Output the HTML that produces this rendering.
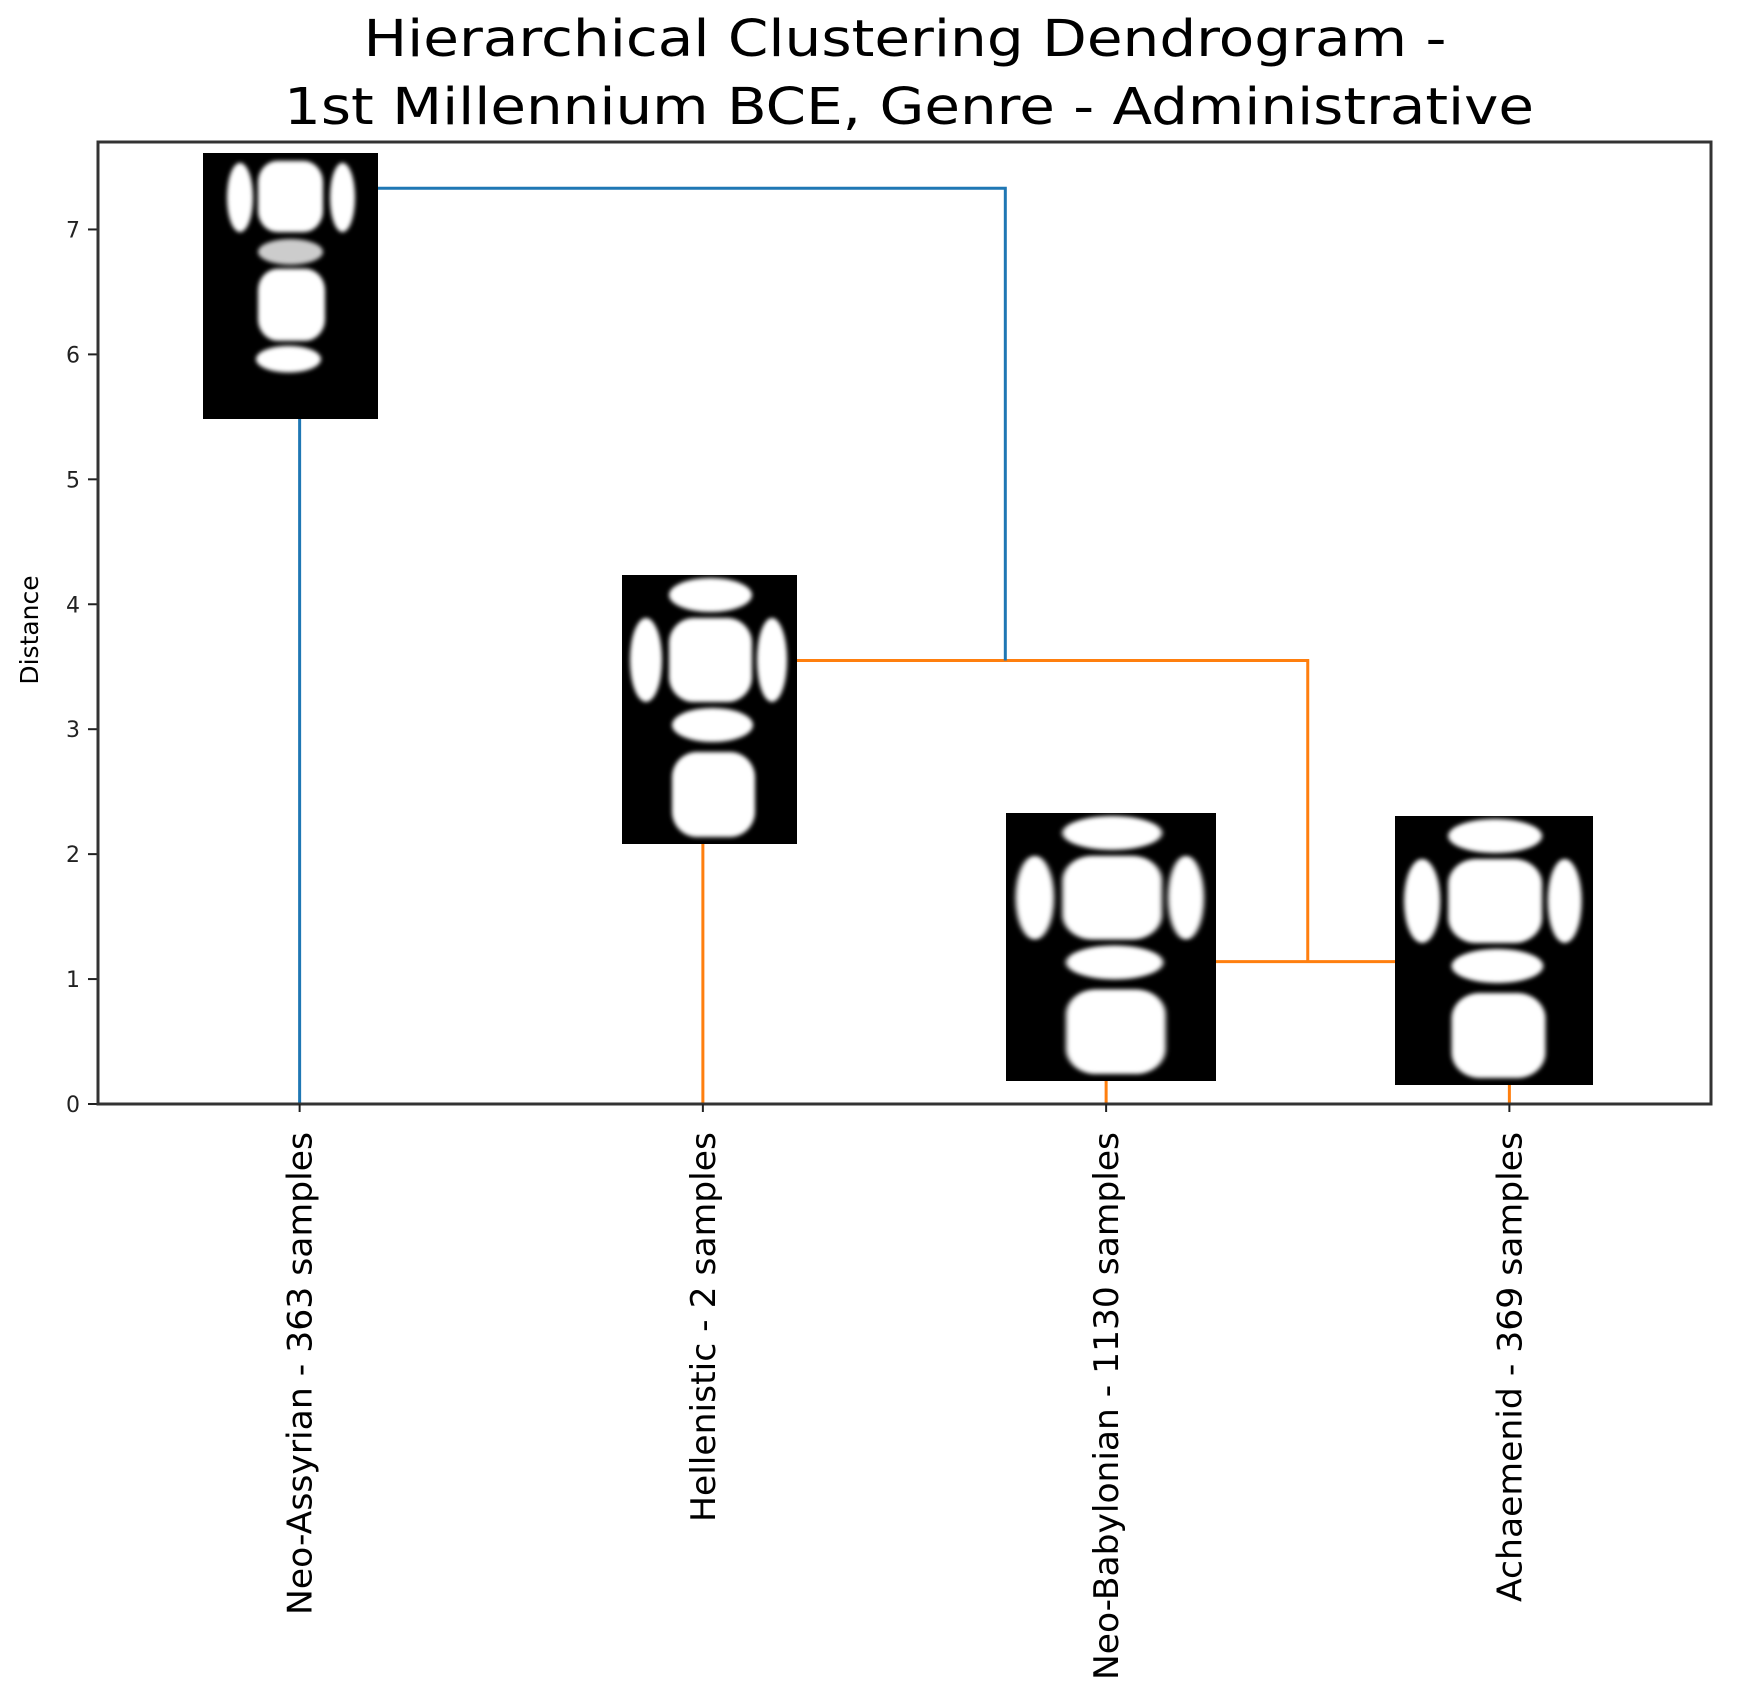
<!DOCTYPE html>
<html><head><meta charset="utf-8"><style>
html,body{margin:0;padding:0;background:#fff;}
svg text{font-family:"DejaVu Sans","Liberation Sans",sans-serif;}
</style></head><body>
<svg id="chart" width="1753" height="1694" viewBox="0 0 1753 1694" xmlns="http://www.w3.org/2000/svg">
<defs>
<filter id="blur" x="-20%" y="-20%" width="140%" height="140%"><feGaussianBlur stdDeviation="2.2"/></filter>
</defs>
<text x="905" y="56" font-size="51" text-anchor="middle" textLength="1083" lengthAdjust="spacingAndGlyphs" fill="#000">Hierarchical Clustering Dendrogram -</text>
<text x="909" y="124" font-size="51" text-anchor="middle" textLength="1250" lengthAdjust="spacingAndGlyphs" fill="#000">1st Millennium BCE, Genre - Administrative</text>
<text transform="translate(38,630) rotate(-90)" font-size="25" text-anchor="middle" fill="#000">Distance</text>
<g id="ticks"></g>
<g id="links"></g>
<g id="thumbs"></g>
<rect x="98" y="142" width="1613" height="962" fill="none" stroke="#333" stroke-width="3"/>
<g id="xlabels"></g>
</svg>
<script>
const leafLabels = ["Neo-Assyrian - 363 samples","Hellenistic - 2 samples","Neo-Babylonian - 1130 samples","Achaemenid - 369 samples"];
const labelLengths = [483, 390, 548, 470];
const mergeLeft = [2, 1, 0];
const mergeRight = [3, 4, 5];
const mergeHeights = [1.14, 3.55, 7.33];
const mergeColors = ["#ff7f0e", "#ff7f0e", "#1f77b4"];
const yTicks = [0,1,2,3,4,5,6,7];

const NS = "http://www.w3.org/2000/svg";
const X0 = 98, X1 = 1711, Y0 = 1104, Y1 = 142;
const xMax = leafLabels.length * 10, yMax = 7.7;
const xs = v => X0 + (v / xMax) * (X1 - X0);
const ys = v => Y0 - (v / yMax) * (Y0 - Y1);
function mk(tag, attrs, parent){ const e = document.createElementNS(NS, tag); for (const k in attrs) e.setAttribute(k, attrs[k]); parent.appendChild(e); return e; }

const tg = document.getElementById('ticks');
yTicks.forEach(t => {
  const l = mk('line', {x1: X0 - 10, x2: X0, y1: ys(t), y2: ys(t), stroke: '#222', 'stroke-width': 2}, tg);
  
  
  const tx = mk('text', {x: X0 - 18, y: ys(t) + 8, 'font-size': 22, 'text-anchor': 'end', fill: '#222'}, tg);
  tx.textContent = t;
  
  
});

const nodeX = leafLabels.map((_, i) => 5 + 10 * i);
const nodeY = leafLabels.map(() => 0);
const lg = document.getElementById('links');
mergeHeights.forEach((h, k) => {
  const a = mergeLeft[k], b = mergeRight[k];
  const xa = xs(nodeX[a]), xb = xs(nodeX[b]);
  const p = mk('path', {d: `M${xa},${ys(nodeY[a])} V${ys(h)} H${xb} V${ys(nodeY[b])}`, fill: 'none', stroke: mergeColors[k], 'stroke-width': 3}, lg);
  
  
  nodeX.push((nodeX[a] + nodeX[b]) / 2);
  nodeY.push(h);
});

const xg = document.getElementById('xlabels');
leafLabels.forEach((lab, i) => {
  const x = xs(nodeX[i]);
  const tick = mk('line', {x1: x, x2: x, y1: Y0, y2: Y0 + 8, stroke: '#222', 'stroke-width': 2}, xg);
  
  
  const t = mk('text', {transform: `translate(${x + 12},1132) rotate(-90)`, 'font-size': 34, 'text-anchor': 'end', textLength: labelLengths[i], lengthAdjust: 'spacingAndGlyphs', fill: '#000'}, xg);
  t.textContent = lab;
  
  
});

const thumbs = [
  {x: 203, y: 153, w: 175, h: 266, type: 1},
  {x: 622, y: 575, w: 175, h: 269, type: 0},
  {x: 1006, y: 813, w: 210, h: 268, type: 0},
  {x: 1395, y: 816, w: 198, h: 269, type: 0}
];
const shapes0 = [
  ['e', 47,3,130,37],['e',8,43,40,127],['r',47,43,130,127],['e',135,43,165,127],['e',50,133,131,167],['r',50,177,133,262]
];
const shapes1 = [
  ['e',24,10,50,80],['r',55,8,120,80],['e',127,10,152,80],['e',55,87,120,113,0.8],['r',55,117,122,190],['e',53,195,118,222]
];
const thg = document.getElementById('thumbs');
thumbs.forEach((th, i) => {
  const g = mk('g', {transform: `translate(${th.x},${th.y}) scale(${th.w/175},${th.h/269})`}, thg);
  
  
  mk('rect', {x: 0, y: 0, width: 175, height: 269, fill: '#000'}, g);
  const sg = mk('g', {filter: 'url(#blur)', fill: '#fff'}, g);
  (th.type ? shapes1 : shapes0).forEach(s => {
    const [k, x1, y1, x2, y2, op] = s;
    if (k === 'e') mk('ellipse', {cx: (x1+x2)/2, cy: (y1+y2)/2, rx: (x2-x1)/2, ry: (y2-y1)/2, opacity: op || 1}, sg);
    else mk('rect', {x: x1, y: y1, width: x2-x1, height: y2-y1, rx: (x2-x1)*0.3, ry: (y2-y1)*0.3, opacity: op || 1}, sg);
  });
});
</script>
</body></html>
